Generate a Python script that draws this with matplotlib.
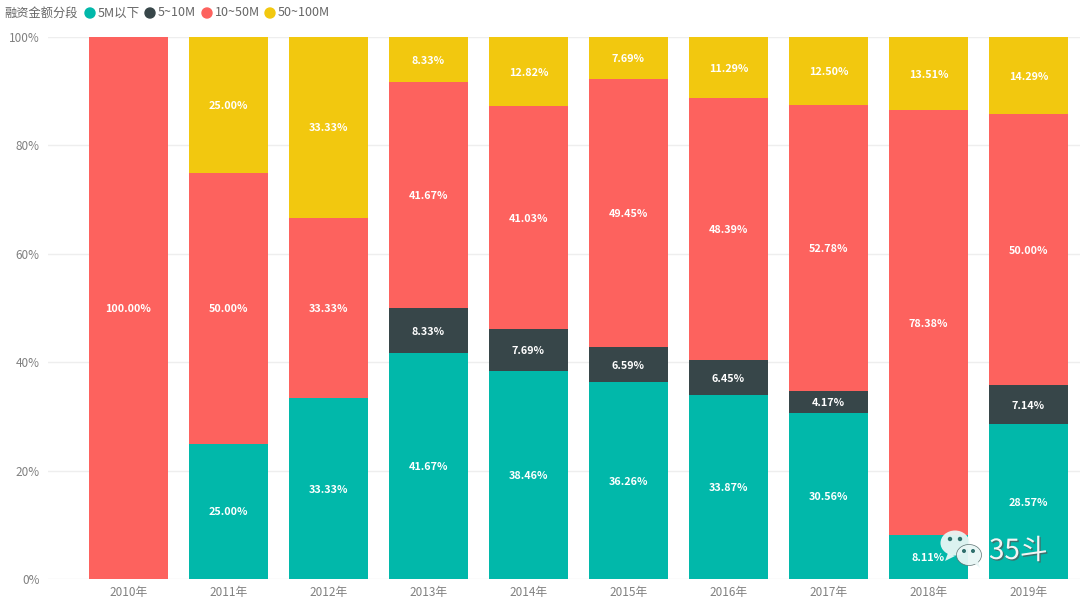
import matplotlib
matplotlib.use("Agg")
import matplotlib.pyplot as plt
from matplotlib.patches import Ellipse, Polygon
import matplotlib.patheffects as pe

plt.rcParams['font.family'] = ['Noto Sans CJK SC', 'DejaVu Sans']

years = ['2010年', '2011年', '2012年', '2013年', '2014年', '2015年', '2016年', '2017年', '2018年', '2019年']
legend_title = '融资金额分段'
names = ['5M以下', '5~10M', '10~50M', '50~100M']
colors = ['#01B8AA', '#374649', '#FD625E', '#F2C80F']

under_5m = [0, 25.00, 33.33, 41.67, 38.46, 36.26, 33.87, 30.56, 8.11, 28.57]
m5_10 = [0, 0, 0, 8.33, 7.69, 6.59, 6.45, 4.17, 0, 7.14]
m10_50 = [100.00, 50.00, 33.33, 41.67, 41.03, 49.45, 48.39, 52.78, 78.38, 50.00]
m50_100 = [0, 25.00, 33.33, 8.33, 12.82, 7.69, 11.29, 12.50, 13.51, 14.29]
series = [under_5m, m5_10, m10_50, m50_100]

W, H = 1080, 599
fig = plt.figure(figsize=(W / 100, H / 100), dpi=100)
ax = fig.add_axes([48 / W, (H - 579) / H, (W - 48) / W, 542 / H])

bottom = [0] * len(years)
for vals, color in zip(series, colors):
    ax.bar(range(len(years)), vals, 0.79, bottom=bottom, color=color, zorder=2)
    for i, v in enumerate(vals):
        if v > 0:
            ax.annotate('%.2f%%' % v, (i, bottom[i] + v / 2), xytext=(0, -0.7), textcoords='offset points',
                        color='white', fontsize=7.8, fontweight='bold', ha='center', va='center', zorder=3)
    bottom = [b + v for b, v in zip(bottom, vals)]

ax.set_xlim(-0.805, 9.515)
ax.set_ylim(0, 100)
ax.set_xticks(range(len(years)))
ax.set_xticklabels(years, fontsize=8.5, color='#808080')
ax.set_yticks([0, 20, 40, 60, 80, 100])
ax.set_yticklabels(['0%', '20%', '40%', '60%', '80%', '100%'], fontsize=8.5, color='#808080')
ax.tick_params(length=0, pad=6)
ax.tick_params(axis='x', pad=5)
ax.grid(axis='y', color='#eeeeee', lw=1, zorder=0)
ax.set_axisbelow(True)
for s in ax.spines.values():
    s.set_visible(False)

# overlay in pixel coordinates for legend and watermark
ov = fig.add_axes([0, 0, 1, 1])
ov.set_xlim(0, W)
ov.set_ylim(H, 0)
ov.axis('off')
ov.patch.set_alpha(0)

ov.text(4, 13, legend_title, fontsize=8.8, color='#666666', va='center')
for name, color, mx, tx in zip(names, colors, [90, 150, 207, 270], [98, 158, 215, 278]):
    ov.add_patch(Ellipse((mx, 13), 10, 10, color=color))
    ov.text(tx, 13, name, fontsize=9, color='#666666', va='center')

# watermark
ov.add_patch(Ellipse((955, 543), 29, 25, fc='#e8f6f5', ec='none', alpha=0.95))
ov.add_patch(Polygon([[948, 553], [945, 561], [955, 556]], fc='#e8f6f5', ec='none', alpha=0.95))
ov.add_patch(Ellipse((969, 555), 25, 21, fc='#e8f6f5', ec='#556b6b', lw=0.5, alpha=0.95))
ov.add_patch(Polygon([[974, 563], [980, 568], [978, 561]], fc='#e8f6f5', ec='none', alpha=0.95))
for x, y, r in [(950, 539, 3), (960, 539, 3), (964, 551, 2.6), (973, 551, 2.6)]:
    ov.add_patch(Ellipse((x, y), r, r, color='#2f6f6c'))
ov.text(989, 551, '35斗', fontsize=20, color='#f4f4f4', va='center',
        path_effects=[pe.withSimplePatchShadow(offset=(1, -1), shadow_rgbFace='#555555', alpha=0.7)])

fig.savefig('out.png', dpi=100, facecolor='white')
